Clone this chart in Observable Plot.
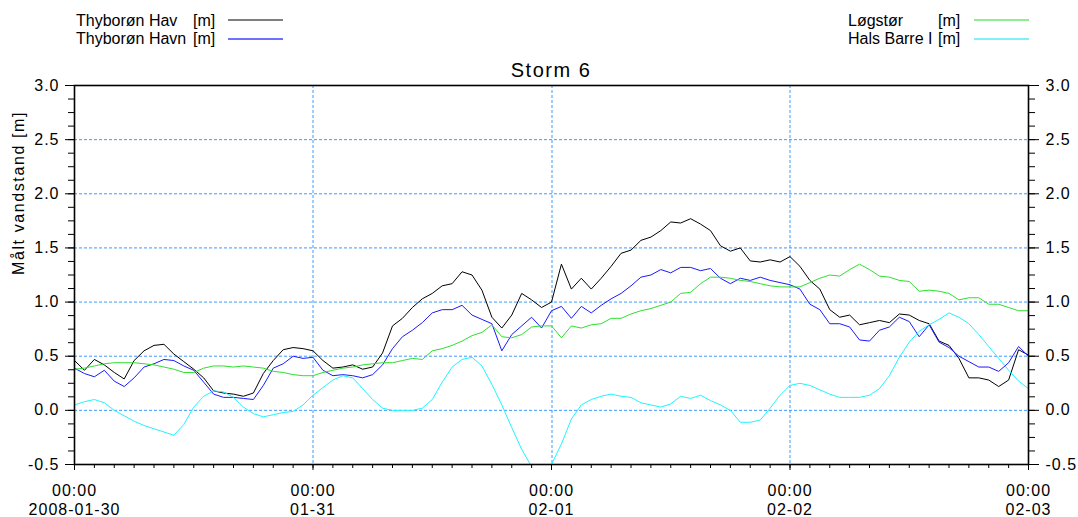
<!DOCTYPE html>
<html><head><meta charset="utf-8">
<script src="https://cdn.jsdelivr.net/npm/d3@7"></script>
<script src="https://cdn.jsdelivr.net/npm/@observablehq/plot@0.6"></script>
<style>
body{margin:0;background:#fff;}
#chart{width:1078px;height:517px;position:relative;font-family:"Liberation Sans",Arial,sans-serif;background:#fff;}
</style></head><body><div id="chart"></div>
<script>
// ---- data ----
const seriesNames = ["Thyborøn Hav", "Thyborøn Havn", "Løgstør", "Hals Barre I"];
const unitLabel = "[m]";
const titleText = "Storm 6";
const yLabel = "Målt vandstand [m]";
const startTime = Date.UTC(2008, 0, 30); // 2008-01-30 00:00
const stepHours = 1;

const hav = [0.46, 0.37, 0.47, 0.42, 0.35, 0.29, 0.46, 0.55, 0.60, 0.61, 0.52, 0.45, 0.38, 0.30, 0.18, 0.16, 0.15, 0.13, 0.16, 0.34, 0.46, 0.56, 0.58, 0.57, 0.55,
  0.46, 0.39, 0.40, 0.42, 0.38, 0.40, 0.53, 0.78, 0.85, 0.95, 1.03, 1.08, 1.15, 1.17, 1.28, 1.25, 1.11, 0.86, 0.76, 0.88, 1.08, 1.02, 0.95, 1.00,
  1.35, 1.12, 1.22, 1.12, 1.22, 1.33, 1.45, 1.48, 1.57, 1.60, 1.66, 1.74, 1.73, 1.77, 1.72, 1.66, 1.52, 1.47, 1.50, 1.38, 1.37, 1.39, 1.37, 1.42,
  1.33, 1.20, 1.12, 0.93, 0.86, 0.88, 0.79, 0.81, 0.83, 0.81, 0.89, 0.88, 0.83, 0.80, 0.64, 0.60, 0.48, 0.30, 0.30, 0.28, 0.22, 0.28, 0.56, 0.51];

const havn = [0.39, 0.34, 0.31, 0.37, 0.27, 0.22, 0.30, 0.40, 0.43, 0.47, 0.46, 0.41, 0.37, 0.26, 0.15, 0.12, 0.12, 0.11, 0.10, 0.23, 0.39, 0.43, 0.50, 0.48, 0.49,
  0.37, 0.32, 0.33, 0.32, 0.30, 0.33, 0.42, 0.57, 0.68, 0.74, 0.81, 0.90, 0.93, 0.93, 0.97, 0.88, 0.84, 0.80, 0.55, 0.70, 0.78, 0.86, 0.76, 0.92,
  0.96, 0.85, 0.96, 0.90, 0.97, 1.03, 1.08, 1.15, 1.23, 1.25, 1.30, 1.27, 1.32, 1.32, 1.29, 1.31, 1.22, 1.17, 1.22, 1.20, 1.23, 1.20, 1.18, 1.16,
  1.12, 0.98, 0.93, 0.80, 0.80, 0.77, 0.65, 0.64, 0.74, 0.77, 0.86, 0.82, 0.68, 0.79, 0.63, 0.58, 0.50, 0.45, 0.40, 0.40, 0.36, 0.44, 0.59, 0.50];

const logstor = [0.38, 0.39, 0.41, 0.43, 0.44, 0.44, 0.44, 0.43, 0.42, 0.40, 0.38, 0.35, 0.35, 0.39, 0.41, 0.41, 0.40, 0.41, 0.40, 0.39, 0.36, 0.35, 0.33, 0.32, 0.32,
  0.35, 0.37, 0.39, 0.40, 0.42, 0.43, 0.44, 0.44, 0.46, 0.48, 0.47, 0.55, 0.57, 0.60, 0.64, 0.69, 0.72, 0.79, 0.68, 0.67, 0.70, 0.77, 0.78, 0.78,
  0.67, 0.78, 0.76, 0.79, 0.80, 0.85, 0.85, 0.89, 0.92, 0.94, 0.97, 1.00, 1.08, 1.09, 1.17, 1.23, 1.23, 1.22, 1.20, 1.19, 1.17, 1.15, 1.14, 1.14,
  1.14, 1.18, 1.22, 1.25, 1.24, 1.30, 1.35, 1.30, 1.24, 1.23, 1.20, 1.19, 1.10, 1.11, 1.10, 1.08, 1.02, 1.04, 1.04, 0.98, 0.98, 0.95, 0.92, 0.92];

const halsBarre = [0.05, 0.08, 0.10, 0.07, 0.00, -0.05, -0.10, -0.14, -0.17, -0.20, -0.23, -0.13, 0.03, 0.13, 0.18, 0.17, 0.12, 0.03, -0.03, -0.06, -0.04, -0.02, -0.01, 0.05, 0.14,
  0.21, 0.28, 0.32, 0.30, 0.20, 0.10, 0.02, 0.00, 0.00, 0.00, 0.02, 0.10, 0.26, 0.40, 0.47, 0.49, 0.41, 0.24, 0.05, -0.16, -0.36, -0.52, -0.62, -0.50,
  -0.31, -0.08, 0.05, 0.10, 0.13, 0.15, 0.13, 0.12, 0.07, 0.05, 0.03, 0.06, 0.13, 0.11, 0.14, 0.09, 0.05, 0.00, -0.11, -0.11, -0.09, 0.02, 0.14, 0.23,
  0.25, 0.23, 0.19, 0.15, 0.12, 0.12, 0.12, 0.14, 0.20, 0.32, 0.49, 0.63, 0.73, 0.79, 0.84, 0.90, 0.86, 0.80, 0.70, 0.59, 0.48, 0.37, 0.27, 0.20];

const seriesColors = ["#000000", "#1a1aff", "#2ee02e", "#1ff4ff"];
const legendColors = ["#000000", "#7070ff", "#22dd22", "#80f0fa"];
const dayTickHours = [0, 24, 48, 72, 96];
const dayTickLabels = ["00:00\n2008-01-30", "00:00\n01-31", "00:00\n02-01", "00:00\n02-02", "00:00\n02-03"];
const yMajorTicks = [-0.5, 0, 0.5, 1.0, 1.5, 2.0, 2.5, 3.0];
const yGridTicks = [0, 0.5, 1.0, 1.5, 2.0, 2.5];
const yMinorStep = 0.125;
const xMinorStepHours = 2;

// ---- build ----
const toDate = h => new Date(startTime + h * 3600e3);
const seriesValues = [hav, havn, logstor, halsBarre];
const rows = [];
seriesValues.forEach((vals, s) => vals.forEach((v, i) => rows.push({t: toDate(i * stepHours), v, s: seriesNames[s]})));

const xMajor = dayTickHours.map(toDate);
const labelMap = new Map(xMajor.map((d, i) => [+d, dayTickLabels[i]]));
const xMinor = d3.range(0, 96 + 1e-9, xMinorStepHours).map(toDate);
const yMinor = d3.range(-0.5, 3 + 1e-9, yMinorStep);
const gridColor = "#3d9bff";
const gridStyle = {stroke: gridColor, strokeOpacity: 1, strokeDasharray: "3,2", strokeWidth: 1};
const fmt = d => d.toFixed(1);
const font = '"Liberation Sans", Arial, sans-serif';

const chart = d3.select("#chart");

// header: legend + title
const header = chart.append("svg").attr("width", 1078).attr("height", 80)
  .style("display", "block").style("overflow", "visible")
  .style("font-family", font).style("font-size", "16px");
const legendPos = [
  {x: 76, ux: 193, lx1: 228, lx2: 283, y: 26, ly: 20},
  {x: 76, ux: 193, lx1: 228, lx2: 283, y: 44, ly: 39},
  {x: 848, ux: 938, lx1: 974, lx2: 1029, y: 26, ly: 20},
  {x: 848, ux: 938, lx1: 974, lx2: 1029, y: 44, ly: 39}
];
seriesNames.forEach((name, i) => {
  const p = legendPos[i];
  header.append("text").attr("x", p.x).attr("y", p.y).attr("fill", "#000").text(name);
  header.append("text").attr("x", p.ux).attr("y", p.y).attr("fill", "#000").text(unitLabel);
  header.append("line").attr("x1", p.lx1).attr("x2", p.lx2).attr("y1", p.ly).attr("y2", p.ly)
    .attr("stroke", legendColors[i]).attr("stroke-width", (i % 2) ? 2 : 1.2);
});
header.append("text").attr("x", 551).attr("y", 77).attr("text-anchor", "middle")
  .style("font-size", "20px").style("letter-spacing", "1.5px").attr("fill", "#000").text(titleText);

const plot = Plot.plot({
  width: 1078,
  height: 437,
  marginTop: 5,
  marginRight: 50,
  marginBottom: 53,
  marginLeft: 74,
  style: {fontFamily: font, fontSize: "16px", letterSpacing: "1px", overflow: "visible", background: "transparent", color: "#000"},
  x: {type: "utc", domain: [toDate(0), toDate(96)]},
  y: {domain: [-0.5, 3]},
  color: {domain: seriesNames, range: seriesColors},
  marks: [
    Plot.gridY({ticks: yGridTicks, ...gridStyle}),
    Plot.ruleX([xMajor[1], xMajor[3]], gridStyle),
    Plot.ruleX([xMajor[2]], {...gridStyle, dx: 0.5}),
    Plot.line(rows, {x: "t", y: "v", z: "s", stroke: "s", strokeWidth: 1, clip: true}),
    Plot.frame({stroke: "#000", strokeWidth: 1.6}),
    Plot.axisY({anchor: "left", ticks: yMajorTicks, tickSize: 9, tickPadding: 6, tickFormat: fmt, label: null}),
    Plot.axisY({anchor: "left", ticks: yMinor, tickSize: 6, tickFormat: () => "", label: null}),
    Plot.axisY({anchor: "right", ticks: yMajorTicks, tickSize: 10, tickPadding: 7, tickFormat: fmt, label: null}),
    Plot.axisY({anchor: "right", ticks: yMinor, tickSize: 6, tickFormat: () => "", label: null}),
    Plot.axisX({anchor: "bottom", ticks: xMajor, tickSize: 6, tickPadding: 12, lineHeight: 1.17, tickFormat: d => labelMap.get(+d), label: null}),
    Plot.axisX({anchor: "bottom", ticks: xMinor, tickSize: 4, tickFormat: () => "", label: null}),
    Plot.text([yLabel], {frameAnchor: "left", dx: -56, rotate: -90, text: d => d, fontSize: 16, fill: "#000"})
  ]
});
chart.node().appendChild(plot);
d3.select(plot).selectAll("text").filter(function() { return this.textContent === yLabel; }).style("letter-spacing", "1.6px");
</script>
</body></html>
